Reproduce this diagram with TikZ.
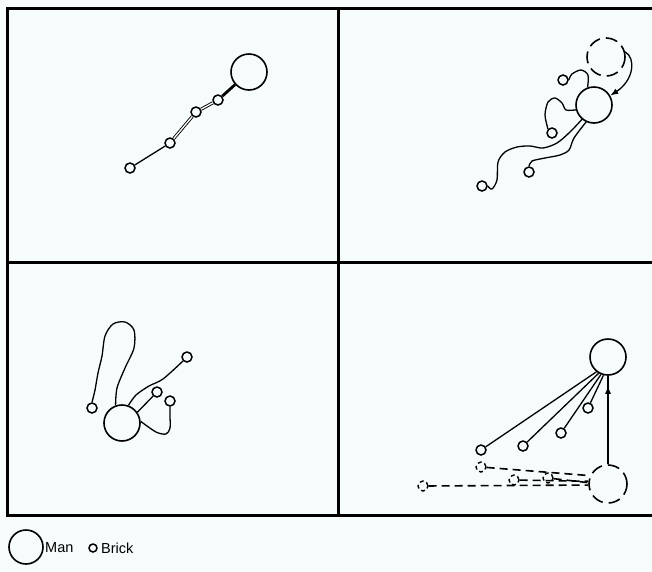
\documentclass[tikz,border=0pt]{standalone}
\usepackage{fontspec}
\setmainfont{Liberation Sans}
\usetikzlibrary{arrows.meta}
\definecolor{bgc}{RGB}{246,252,252}
\begin{document}
\begin{tikzpicture}[x=1pt,y=-1pt,
  man/.style={circle,draw,line width=1.6pt,minimum size=36pt,inner sep=0pt},
  ghostman/.style={circle,draw,line width=1.6pt,minimum size=38pt,inner sep=0pt,dash pattern=on 12pt off 6pt},
  brick/.style={circle,draw,line width=1.5pt,minimum size=10pt,inner sep=0pt,fill=bgc},
  ghostbrick/.style={circle,draw,line width=1.4pt,minimum size=10pt,inner sep=0pt,dash pattern=on 4pt off 3pt},
  cord/.style={line width=1.3pt},
  dcord/.style={line width=0.9pt,double,double distance=1.3pt},
  ghostcord/.style={line width=1.6pt,dash pattern=on 8pt off 5pt},
  frame/.style={line width=3pt},
  tip/.style={-{Latex[length=8pt,width=6pt]},line width=1.3pt},
  lbl/.style={font=\fontsize{14.5pt}{16pt}\selectfont,inner sep=0pt,anchor=west}
]
\fill[bgc] (0,0) rectangle (652,571);
\useasboundingbox (0,0) rectangle (652,571);
% frame
\draw[frame] (652,8) -- (7.5,8) -- (7.5,515.5) -- (652,515.5);
\draw[frame] (7.5,262) -- (652,262);
\draw[frame] (338,8) -- (338,515.5);

% ---- quadrant 1
\node[man] (m1) at (249,72) {};
\node[brick] (b11) at (130,168) {};
\node[brick] (b12) at (170,143) {};
\node[brick] (b13) at (196,112) {};
\node[brick] (b14) at (218,100) {};
\draw[line width=2.8pt] (m1) -- (b14);
\draw[dcord] (b14) -- (b13);
\draw[dcord] (b13) -- (b12);
\draw[cord] (b12) -- (b11);

% ---- quadrant 2
\node[man] (m2) at (594,105) {};
\node[ghostman] (g2) at (606,57) {};
\node[brick] (b21) at (563,80) {};
\node[brick] (b22) at (552,133) {};
\node[brick] (b23) at (482,186) {};
\node[brick] (b24) at (529,172) {};
\draw[tip] (g2.15) .. controls (636,58) and (634,80) .. (m2.30);
\draw[cord] plot[smooth] coordinates {(b21.east) (572,74) (581,70) (588,75) (m2.110)};
\draw[cord] plot[smooth] coordinates {(b22.north west) (545,115) (548,102) (555,98) (562,103) (566,110) (m2.195)};
\draw[cord] plot[smooth] coordinates {(b23.east) (492,189) (497,180) (498,162) (505,152) (517,147) (530,146) (543,148) (557,143) (570,132) (m2.230)};
\draw[cord] plot[smooth] coordinates {(b24.north) (532,161) (545,158) (560,155) (569,150) (574,138) (m2.245)};

% ---- quadrant 3
\node[man] (m3) at (122,423) {};
\node[brick] (b31) at (92,408) {};
\node[brick] (b32) at (187,357) {};
\node[brick] (b33) at (157,392) {};
\node[brick] (b34) at (170,401) {};
\draw[cord] plot[smooth] coordinates {(b31.north) (95,390) (98,373) (102,356) (105,336) (113,324) (125,322) (134,330) (134,348) (125,368) (117,388) (m3.110)};
\draw[cord] plot[smooth] coordinates {(m3.70) (136,395) (149,386) (163,379) (b32.south west)};
\draw[cord] (m3.35) -- (b33);
\draw[cord] plot[smooth] coordinates {(b34.south) (170,416) (170,428) (166,434) (156,432) (m3.5)};

% ---- quadrant 4
\node[man] (m4) at (608,357) {};
\node[ghostman] (g4) at (608,484) {};
\node[brick] (b41) at (481,450) {};
\node[brick] (b42) at (523,446) {};
\node[brick] (b43) at (561,433) {};
\node[brick] (b44) at (588,408) {};
\draw[cord] (b41) -- (m4.232);
\draw[cord] (b42) -- (m4.240);
\draw[cord] (b43) -- (m4.248);
\draw[cord] (b44) -- (m4.256);
\draw[cord] (g4.north) -- (m4.south);
\draw[tip,shorten >=10pt] (g4.north) -- (m4.south);
\node[ghostbrick] (gb1) at (423,486) {};
\node[ghostbrick] (gb2) at (481,467) {};
\node[ghostbrick] (gb3) at (514,480) {};
\node[ghostbrick] (gb4) at (548,478) {};
\draw[ghostcord] (gb1) -- (g4.183);
\draw[ghostcord] (gb2) -- (g4.155);
\draw[ghostcord] (gb3) -- (g4.172);
\draw[ghostcord] (gb4) -- (g4.176);

% ---- legend
\node[man,minimum size=34pt] (lm) at (26,547) {};
\node[lbl] (lmt) at (45,548) {Man};
\node[brick,minimum size=8pt] (lb) at (93,548) {};
\node[lbl] (lbt) at (101,548) {Brick};
\end{tikzpicture}
\end{document}
